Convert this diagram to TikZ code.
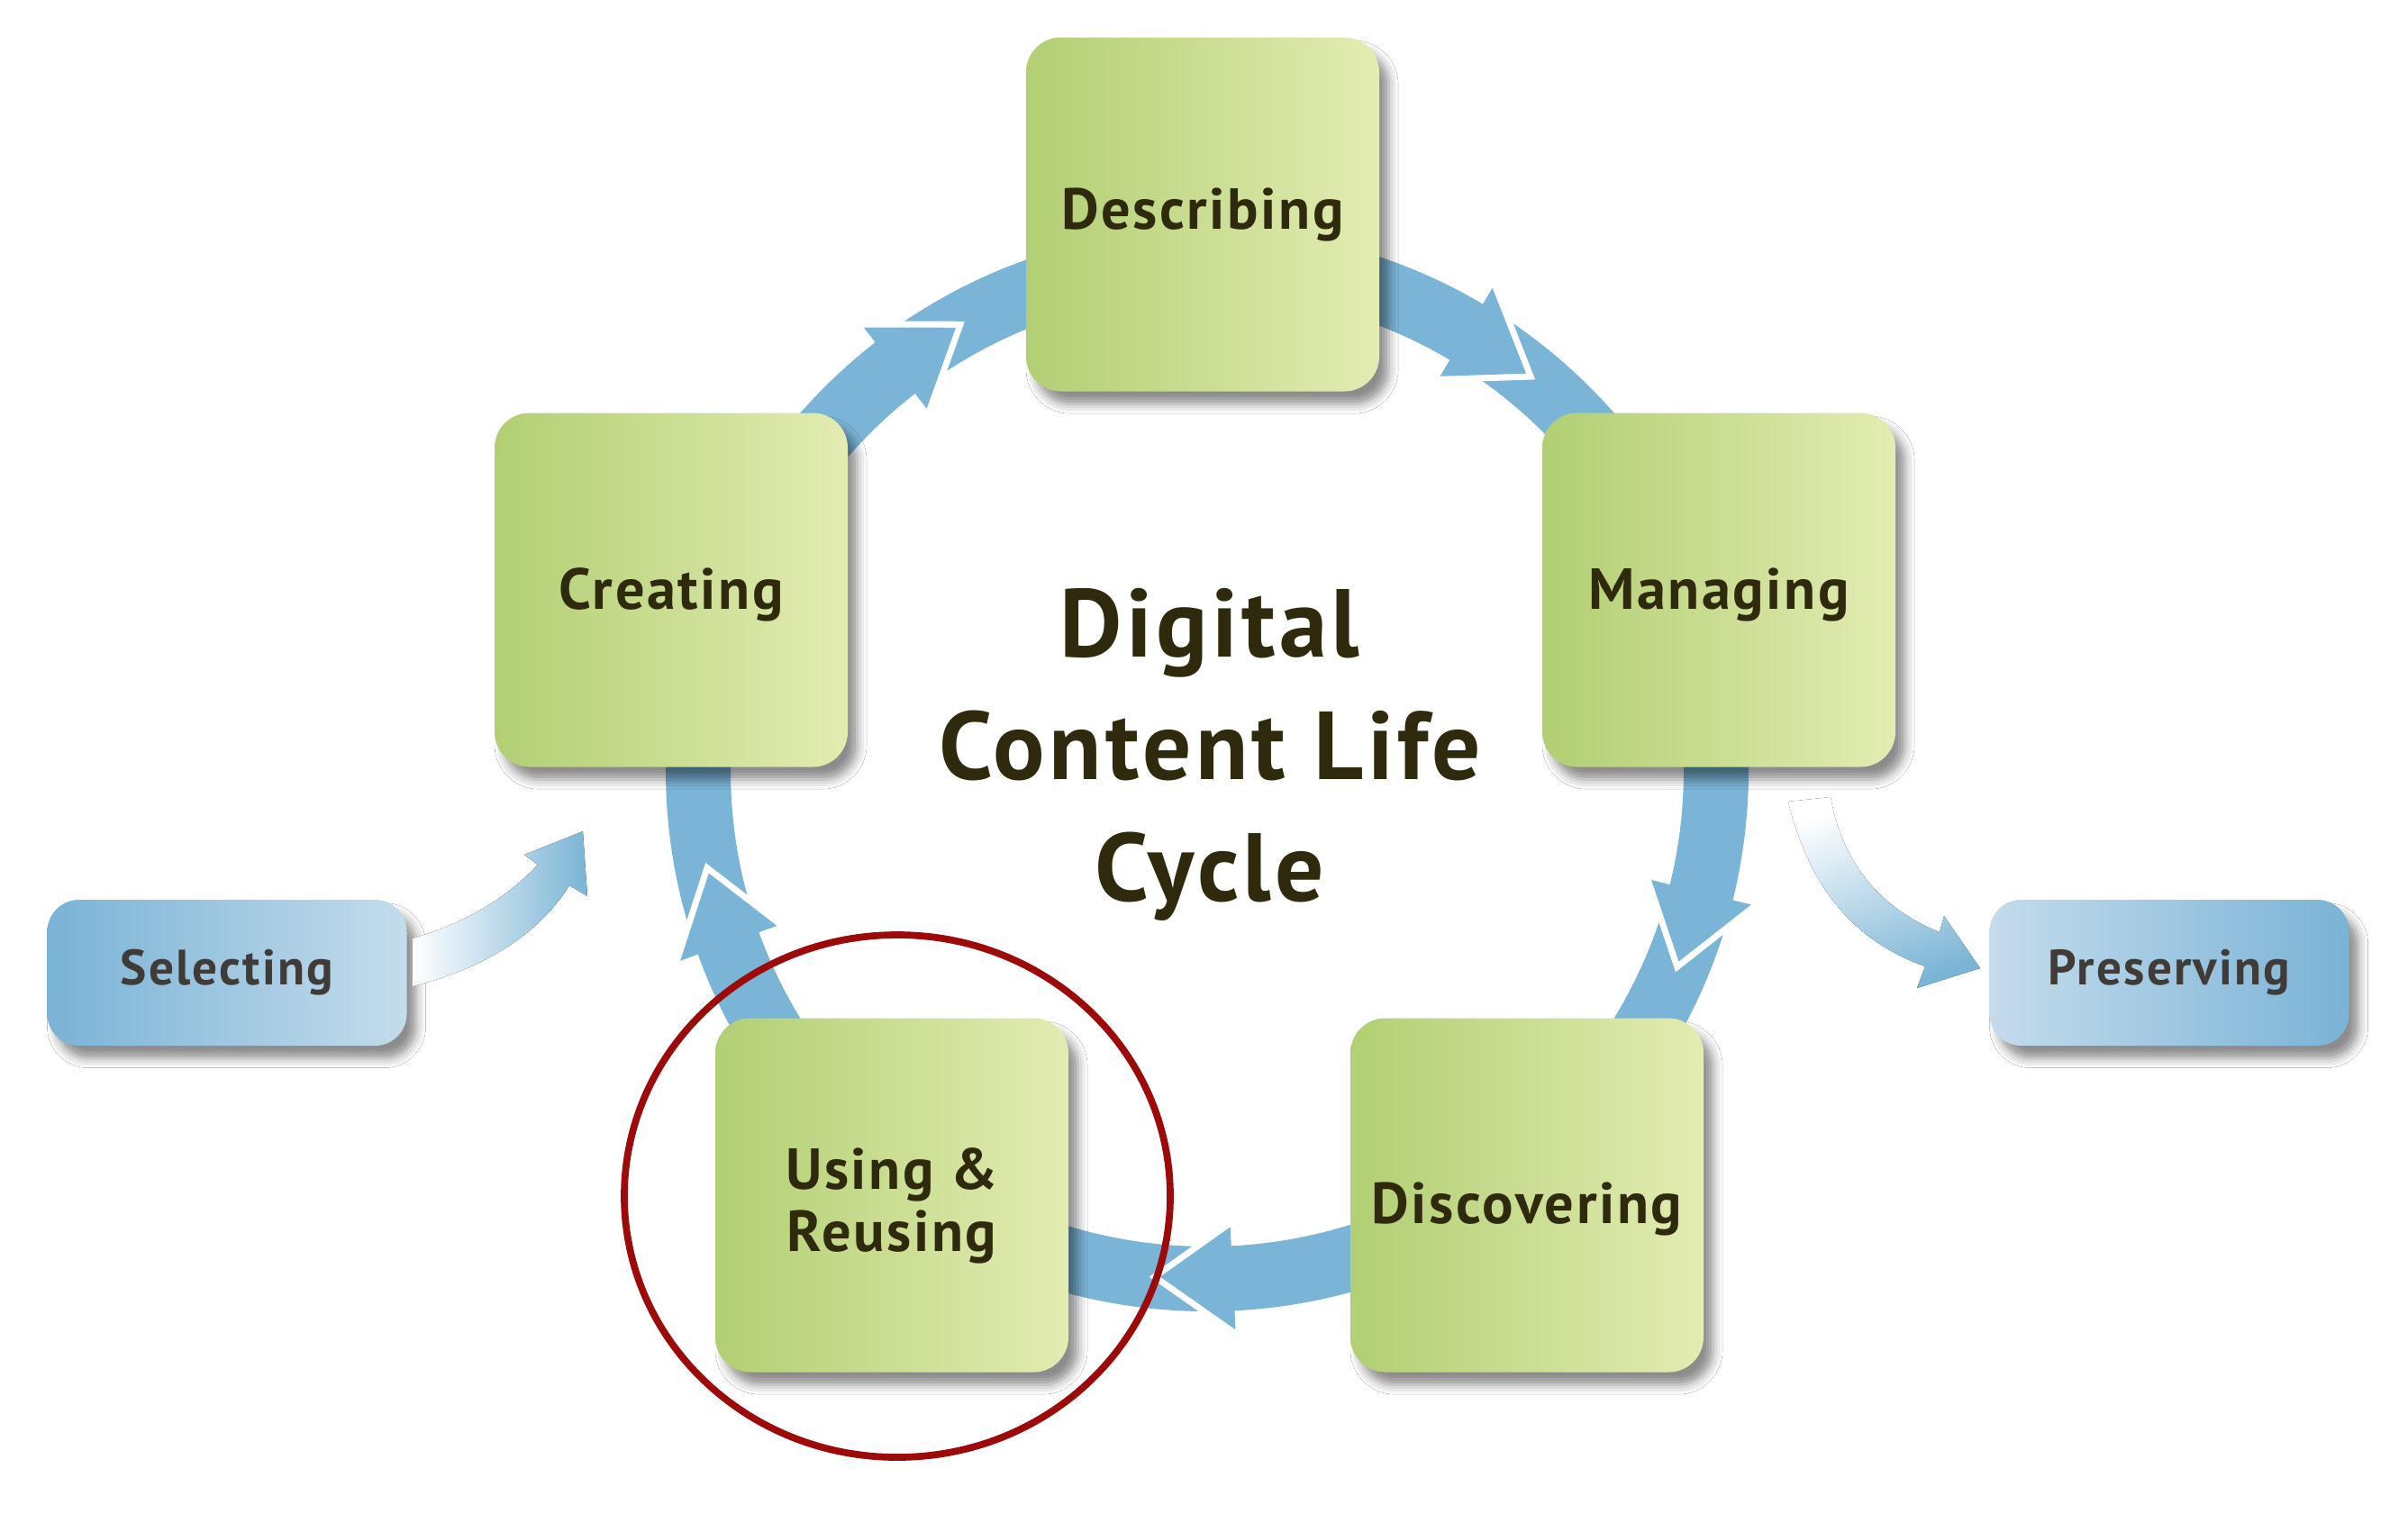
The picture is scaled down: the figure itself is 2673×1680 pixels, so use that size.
\documentclass[tikz,border=0pt]{standalone}
\usepackage{fontspec}
\setmainfont{PT Sans}
\newfontfamily\lblfont{PT Sans}[LetterSpace=4.0]
\usetikzlibrary{calc,shadows.blur}
\definecolor{gL}{HTML}{B2CF73}
\definecolor{gR}{HTML}{E3ECB2}
\definecolor{band}{HTML}{7AB4D6}
\definecolor{bL}{HTML}{7AB3D6}
\definecolor{bR}{HTML}{C4DCEC}
\definecolor{ringred}{HTML}{9C0A0A}
\definecolor{txt}{HTML}{2F2A0E}
\definecolor{txtb}{HTML}{403B37}
\newcommand\lowered[2]{\raisebox{-#1}[\height][\depth]{#2}}
\begin{document}
\begin{tikzpicture}[x=0.1mm,y=-0.1mm,
  softshadow/.style={blur shadow={shadow xshift=3pt, shadow yshift=-4pt, shadow blur radius=3pt, shadow opacity=45}},
  gbox/.style={rounded corners=11pt, minimum width=39.2mm, minimum height=39.3mm, inner sep=0pt,
    left color=gL, right color=gR, softshadow,
    font=\lblfont\bfseries\fontsize{18.3}{19.5}\selectfont, text=txt, align=center},
  sidebox/.style={rounded corners=10pt, minimum width=39.9mm, minimum height=16.2mm, inner sep=0pt,
    softshadow, font=\lblfont\bfseries\fontsize{15.7}{18}\selectfont, text=txtb},
  headwhite/.style={white, line width=4pt, line join=miter, miter limit=10},
  bandstroke/.style={draw=band, line width=7.2mm}
]
\useasboundingbox (0,0) rectangle (2673,1680);
\fill[white] (0,0) rectangle (2673,1680);
\coordinate (ctr) at (1340,855);

% cycle band
\draw[bandstroke] (ctr) circle[radius=565];

% arrow heads on the band
\foreach \t in {240.4,308.8,22.1,95.3,168.3}{
  \pgfmathsetmacro\b{\t-8.2}
  \draw[headwhite] ($(ctr)+(\b:622)$) -- ($(ctr)+(\t:565)$) -- ($(ctr)+(\b:508)$);
  \fill[band] ($(ctr)+(\b:622)$) -- ($(ctr)+(\t:565)$) -- ($(ctr)+(\b:508)$) -- cycle;
}

% stage boxes
\node[gbox] (desc) at (1335,238) {Describing};
\node[gbox] (crea) at (745,655) {\lowered{1.5pt}{Creating}};
\node[gbox] (mana) at (1908,655) {\lowered{1.5pt}{Managing}};
\node[gbox] (disc) at (1695,1327) {\lowered{4.5pt}{Discovering}};
\node[gbox] (usin) at (990,1327) {\lowered{4pt}{\begin{tabular}{@{}c@{}}Using \&\\Reusing\end{tabular}}};

% side boxes
\node[sidebox, left color=bL, right color=bR] (sel) at (252,1080) {Selecting};
\node[sidebox, left color=bR, right color=bL] (pres) at (2408,1080) {Preserving};

% fading side arrows
\fill[left color=white, right color=band]
  (458,1042) .. controls (510,1027) and (560,1000) .. (597,960)
  -- (582,949) -- (647,923) -- (652,995) -- (632,983)
  .. controls (600,1035) and (540,1075) .. (458,1095) -- cycle;
\fill[top color=white, bottom color=band, shading angle=20]
  (1985,890) .. controls (2010,990) and (2060,1045) .. (2137,1073)
  -- (2128,1097) -- (2198,1075) -- (2158,1017) -- (2153,1035)
  .. controls (2090,1010) and (2045,960) .. (2032,885) -- cycle;

% title
\node[font=\lblfont\bfseries\fontsize{30.5}{38.5}\selectfont, text=txt, align=center] (title) at (1343,838) {Digital\\Content Life\\Cycle};

% highlight ring
\draw[ringred, line width=2.2pt] (996,1328) ellipse[x radius=303, y radius=290];
\end{tikzpicture}
\end{document}
